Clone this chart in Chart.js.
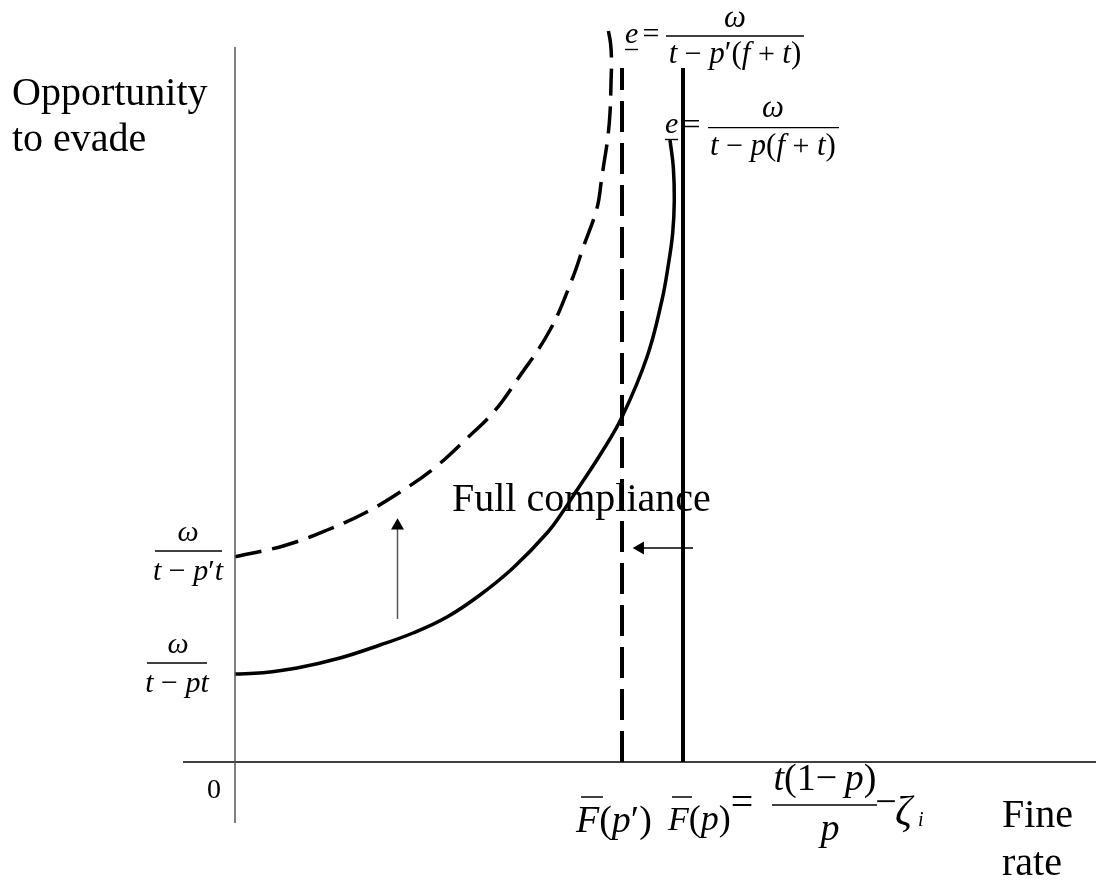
<!DOCTYPE html>
<html>
<head>
<meta charset="utf-8">
<script src="https://cdn.jsdelivr.net/npm/chart.js@4.4.1/dist/chart.umd.min.js"></script>
<style>
html, body { margin: 0; padding: 0; background: #fff; }
#wrap { width: 1096px; height: 885px; }
</style>
</head>
<body>
<div id="wrap"><canvas id="grafico" width="1096" height="885"></canvas></div>
<script>
// CURVES - x = fine rate, y = opportunity to evade
const curvaP_x = [0, 0.28, 0.62, 1.05, 1.45, 1.78, 2.12, 2.45, 2.78, 3.12, 3.29, 3.42, 3.65, 3.87, 4.12, 4.27, 4.33, 4.377, 4.393, 4.383, 4.35];
const curvaP_y = [0.88, 0.893, 0.94, 1.04, 1.17, 1.29, 1.45, 1.67, 1.94, 2.29, 2.52, 2.72, 3.07, 3.45, 4.05, 4.62, 4.95, 5.29, 5.62, 5.95, 6.22];

const curvaP2_x = [0, 0.49, 0.923, 1.323, 1.657, 1.99, 2.323, 2.59, 2.82, 3.15, 3.38, 3.48, 3.62, 3.665, 3.69, 3.725, 3.75, 3.76, 3.765, 3.755, 3.73];
const curvaP2_y = [2.053, 2.163, 2.32, 2.503, 2.703, 2.937, 3.24, 3.503, 3.82, 4.32, 4.85, 5.14, 5.54, 5.82, 5.99, 6.22, 6.49, 6.79, 7.02, 7.19, 7.33];

// full compliance thresholds F(p) and F(p')
const limites_x = [4.48, 3.87];
const limiteTopo = 6.94;

// axes extents
const eixoX = [-0.52, 8.61];
const eixoY = [-0.61, 7.15];

// arrows: shift up of the curve, shift left of the threshold
const setaCima_x = [1.625, 1.625];
const setaCima_y = [1.43, 2.362];
const setaEsq_x = [4.58, 4.052];
const setaEsq_y = [2.14, 2.14];

const pts = (xs, ys) => xs.map((x, i) => ({x: x, y: ys[i]}));

const serif = "'Liberation Serif', 'Times New Roman', serif";
const I = s => `italic ${s}px ${serif}`;
const R = s => `${s}px ${serif}`;

// draws a run of pieces [text, font] starting at x (or centered)
function texto(ctx, partes, x, y, centro) {
    let w = 0;
    partes.forEach(p => { ctx.font = p[1]; w += ctx.measureText(p[0]).width; });
    let cx = centro ? x - w / 2 : x;
    partes.forEach(p => {
        ctx.font = p[1];
        ctx.fillText(p[0], cx, y);
        cx += ctx.measureText(p[0]).width;
    });
    return w;
}

function linha(ctx, x1, y1, x2, y2, lw) {
    ctx.beginPath();
    ctx.lineWidth = lw;
    ctx.moveTo(x1, y1);
    ctx.lineTo(x2, y2);
    ctx.stroke();
}

const rotulos = {
    id: 'rotulos',
    afterDatasetsDraw(chart) {
        const ctx = chart.ctx;
        ctx.save();
        ctx.fillStyle = '#000';
        ctx.strokeStyle = '#000';
        ctx.textBaseline = 'alphabetic';

        // axis titles
        texto(ctx, [['Opportunity', R(40)]], 12, 105);
        texto(ctx, [['to evade', R(40)]], 12, 151);
        texto(ctx, [['Fine', R(40)]], 1002, 827);
        texto(ctx, [['rate', R(40)]], 1002, 875);
        texto(ctx, [['Full compliance', R(40)]], 452, 511);
        texto(ctx, [['0', R(28)]], 207, 798);

        // e = w / (t - p'(f+t))
        texto(ctx, [['e', I(30)]], 625, 43);
        linha(ctx, 625, 49.5, 638, 49.5, 1.4);
        texto(ctx, [['=', R(30)]], 651, 43, true);
        linha(ctx, 666, 36, 804, 36, 1.3);
        texto(ctx, [['ω', I(31)]], 735, 27, true);
        texto(ctx, [['t', I(31)], [' − ', R(30)], ['p', I(31)], ['′', R(31)], ['(', R(31)], ['f', I(31)], [' + ', R(30)], ['t', I(31)], [')', R(31)]], 735, 63, true);

        // e = w / (t - p(f+t))
        texto(ctx, [['e', I(30)]], 665, 133);
        linha(ctx, 665, 139.5, 678, 139.5, 1.4);
        texto(ctx, [['=', R(30)]], 692, 134, true);
        linha(ctx, 708, 127.7, 839, 127.7, 1.3);
        texto(ctx, [['ω', I(31)]], 773, 117, true);
        texto(ctx, [['t', I(31)], [' − ', R(30)], ['p', I(31)], ['(', R(31)], ['f', I(31)], [' + ', R(30)], ['t', I(31)], [')', R(31)]], 773, 155, true);

        // intercepts on the vertical axis
        linha(ctx, 155, 551, 222, 551, 1.3);
        texto(ctx, [['ω', I(30)]], 188, 541, true);
        texto(ctx, [['t', I(30)], [' − ', R(30)], ['p', I(30)], ['′', R(30)], ['t', I(30)]], 188, 580, true);
        linha(ctx, 147, 663, 207, 663, 1.3);
        texto(ctx, [['ω', I(30)]], 178, 653, true);
        texto(ctx, [['t', I(30)], [' − ', R(30)], ['p', I(30)], ['t', I(30)]], 177, 692, true);

        // F(p') and F(p) = t(1-p)/p - zeta_i
        texto(ctx, [['F', I(38)], ['(', R(38)], ['p', I(38)], ['′', R(38)], [')', R(38)]], 576, 832);
        linha(ctx, 581, 797, 603, 797, 1.5);
        texto(ctx, [['F', I(34)], ['(', R(36)], ['p', I(36)], [')', R(36)]], 668, 830);
        linha(ctx, 672, 797, 692, 797, 1.5);
        ctx.textBaseline = 'middle';
        texto(ctx, [['=', R(40)]], 742, 804, true);
        texto(ctx, [['−', R(38)]], 886, 804, true);
        ctx.textBaseline = 'alphabetic';
        linha(ctx, 772, 805, 877, 805, 1.5);
        texto(ctx, [['t', I(38)], ['(1', R(38)], ['−', R(38)], ['\u2009', R(38)], ['p', I(38)], [')', R(38)]], 825, 790, true);
        texto(ctx, [['p', I(38)]], 830, 840, true);
        texto(ctx, [['ζ', I(42)]], 895, 825);
        texto(ctx, [['i', I(20)]], 918, 826);

        ctx.restore();
    }
};

new Chart(document.getElementById('grafico'), {
    type: 'scatter',
    data: {
        datasets: [
            { data: pts(eixoY.map(() => 0), eixoY), borderColor: '#555', borderWidth: 1.5 },
            { data: pts(eixoX, [0, 0]), borderColor: '#000', borderWidth: 1.5 },
            { data: pts(curvaP_x, curvaP_y), borderColor: '#000', borderWidth: 3.5, tension: 0.4 },
            { data: pts(curvaP2_x, curvaP2_y), borderColor: '#000', borderWidth: 3.5, tension: 0.4, borderDash: [27, 11] },
            { data: pts([limites_x[0], limites_x[0]], [0, limiteTopo]), borderColor: '#000', borderWidth: 4 },
            { data: pts([limites_x[1], limites_x[1]], [0, limiteTopo]), borderColor: '#000', borderWidth: 4, borderDash: [31, 11] },
            { data: pts(setaCima_x, setaCima_y), borderColor: '#555', borderWidth: 1.5,
              pointRadius: [0, 7.5], pointStyle: 'triangle', pointBackgroundColor: '#000', pointBorderWidth: 0 },
            { data: pts(setaEsq_x, setaEsq_y), borderColor: '#000', borderWidth: 1.5,
              pointRadius: [0, 7.5], pointStyle: 'triangle', rotation: -90, pointBackgroundColor: '#000', pointBorderWidth: 0 }
        ].map(d => Object.assign({ showLine: true, pointRadius: 0, borderCapStyle: 'butt' }, d))
    },
    options: {
        responsive: false,
        animation: false,
        devicePixelRatio: 1,
        events: [],
        layout: { padding: 0, autoPadding: false },
        plugins: { legend: { display: false }, tooltip: { enabled: false } },
        scales: {
            x: { type: 'linear', min: -2.35, max: 8.61, display: false },
            y: { type: 'linear', min: -1.23, max: 7.62, display: false }
        }
    },
    plugins: [rotulos]
});
</script>
</body>
</html>
